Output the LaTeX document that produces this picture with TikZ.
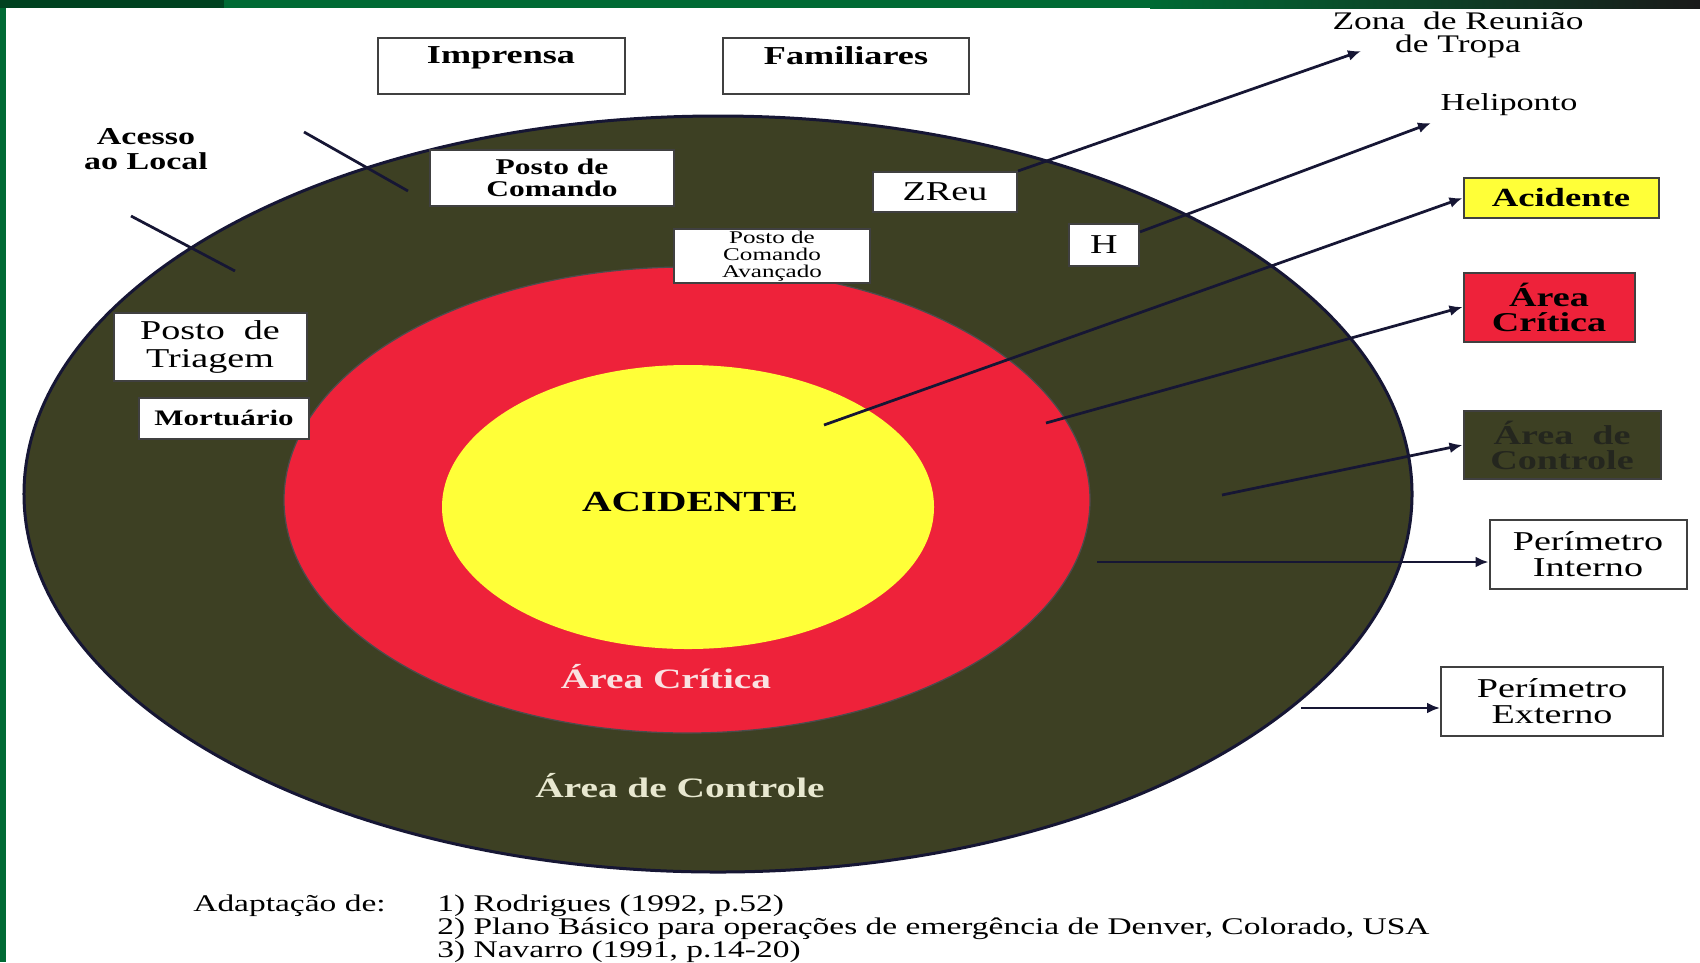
\documentclass[tikz,border=0pt]{standalone}
\usepackage{fontspec}
\setmainfont{Liberation Serif}[FakeStretch=1.4]
\usetikzlibrary{arrows.meta,positioning,calc}

\definecolor{slidegreen}{RGB}{0,106,52}
\definecolor{slidedark}{RGB}{0,66,32}
\definecolor{olivearea}{RGB}{61,64,35}
\definecolor{redarea}{RGB}{238,34,58}
\definecolor{yellowarea}{RGB}{255,255,56}
\definecolor{navyline}{RGB}{22,22,52}
\definecolor{critwhite}{RGB}{250,226,226}
\definecolor{ctrlcream}{RGB}{232,232,208}
\definecolor{ctrltext}{RGB}{36,38,30}

\newcommand{\setfs}[2]{\fontsize{#1}{#2}\selectfont}

\begin{document}
\begin{tikzpicture}[x=0.2mm, y=-0.2mm,
    box/.style={draw=black!75, line width=0.4mm, fill=white, inner sep=0pt, align=center},
    arr/.style={-{Latex[length=2.6mm,width=2.2mm]}, line width=0.55mm, draw=navyline},
    tick/.style={line width=0.55mm, draw=navyline},
]
\useasboundingbox (0,0) rectangle (1700,962);

% slide frame
\fill[slidegreen] (0,0) rectangle (6,962);
\fill[slidedark] (0,0) rectangle (224,8);
\fill[slidegreen] (224,0) rectangle (1150,8);
\shade[left color=slidegreen, right color=black!90] (1150,0) rectangle (1700,8);

% zones
\filldraw[fill=olivearea, draw=navyline, line width=0.6mm] (718,494) ellipse [x radius=138.8mm, y radius=75.6mm];
\filldraw[fill=redarea, draw=black!70, line width=0.25mm] (687,500) ellipse [x radius=80.6mm, y radius=46.6mm];
\fill[yellowarea] (688,507) ellipse [x radius=49.2mm, y radius=28.4mm];

\node[font=\bfseries\setfs{16.6}{19}] (acid) at (690,502) {ACIDENTE};
\node[font=\bfseries\setfs{16}{18}, text=critwhite] (critlbl) at (666,677) {Área Crítica};
\node[font=\bfseries\setfs{16}{18}, text=ctrlcream] (ctrllbl) at (680,786) {Área de Controle};

% access ticks
\draw[tick] (304,132) -- (408,191);
\draw[tick] (131,216) -- (235,271);
\node[font=\bfseries\setfs{13.8}{13.8}, align=center] (acesso) at (146,149) {Acesso\\ao Local};

% boxes on the site
\node[box, minimum width=49.4mm, minimum height=11.2mm, text depth=4.3mm, font=\bfseries\setfs{14.7}{17}] (imprensa) at (501,66) {Imprensa};
\node[box, minimum width=49.2mm, minimum height=11.2mm, text depth=4.3mm, font=\bfseries\setfs{14.7}{17}] (familia) at (846,66) {Familiares};
\node[box, minimum width=48.8mm, minimum height=11.2mm, font=\bfseries\setfs{12.8}{12.7}] (pcmd) at (552,178) {Posto de\\Comando};
\node[box, minimum width=28.8mm, minimum height=8mm, font=\setfs{15.5}{17}] (zreu) at (945,192) {ZReu};
\node[box, minimum width=39.2mm, minimum height=10.8mm, font=\setfs{10.2}{9.8}] (pcav) at (772,256) {Posto de\\Comando\\Avançado};
\node[box, minimum width=14mm, minimum height=8.4mm, font=\setfs{15.5}{17}] (heli) at (1104,245) {H};
\node[box, minimum width=38.6mm, minimum height=13.6mm, font=\setfs{15.5}{15.4}] (triagem) at (210,347) {Posto \ de\\Triagem};
\node[box, minimum width=34mm, minimum height=8.2mm, font=\bfseries\setfs{12.6}{14}] (mort) at (224,418) {Mortuário};

% legend
\node[box, fill=yellowarea, minimum width=39mm, minimum height=8mm, font=\bfseries\setfs{14.9}{17}] (acidbox) at (1561,198) {Acidente};
\node[box, fill=redarea, minimum width=34.2mm, minimum height=13.8mm, font=\bfseries\setfs{15.5}{14.2}] (critbox) at (1549,307) {Área\\Crítica};
\node[box, fill=olivearea, text=ctrltext, minimum width=39.4mm, minimum height=13.6mm, font=\bfseries\setfs{15.5}{14.2}] (ctrlbox) at (1562,445) {Área \ de\\Controle};
\node[box, minimum width=39.4mm, minimum height=13.8mm, font=\setfs{15.5}{14.8}] (pint) at (1588,554) {Perímetro\\Interno};
\node[box, minimum width=44.4mm, minimum height=13.8mm, font=\setfs{15.5}{14.8}] (pext) at (1552,701) {Perímetro\\Externo};

\node[font=\setfs{14.4}{13}, align=center] (zona) at (1458,35) {Zona \ de Reunião\\de Tropa};
\node[font=\setfs{13.9}{15}] (heliponto) at (1509,105) {Heliponto};

% pointers
\coordinate (tipZona) at (1361,51);
\coordinate (tipHeli) at (1431,123);
\coordinate (inAcid) at (824,425);
\coordinate (inCrit) at (1046,423);
\coordinate (inCtrl) at (1222,495);
\coordinate (inPint) at (1097,562);
\coordinate (inPext) at (1301,708);

\draw[arr] (zreu.north east) -- (tipZona);
\draw[arr] (heli.20) -- (tipHeli);
\draw[arr] (inAcid) -- (acidbox.west);
\draw[arr] (inCrit) -- (critbox.west);
\draw[arr] (inCtrl) -- (ctrlbox.west);
\draw[arr] (inPint) -- (inPint -| pint.west);
\draw[arr] (inPext) -- (inPext -| pext.west);

% source
\node[font=\setfs{13.6}{13}, anchor=base west, inner sep=0pt] (fonte) at (193,911) {Adaptação de:};
\node[font=\setfs{13.6}{13.1}, align=left, anchor=north west, inner sep=0pt] (refs) at (437,895)
  {1) Rodrigues (1992, p.52)\\
   2) Plano Básico para operações de emergência de Denver, Colorado, USA\\
   3) Navarro (1991, p.14-20)};
\end{tikzpicture}
\end{document}
